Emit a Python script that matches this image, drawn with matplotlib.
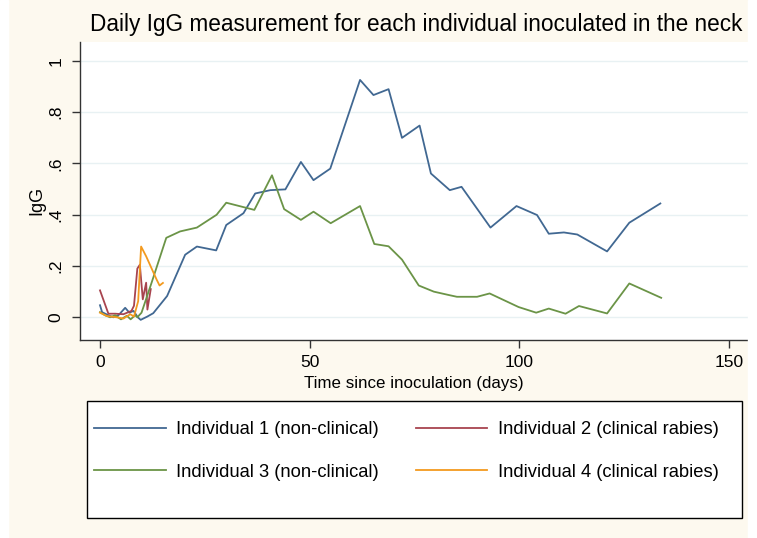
import matplotlib
matplotlib.use("Agg")
import matplotlib.pyplot as plt
from matplotlib.patches import Rectangle

plt.rcParams['font.family'] = ['Liberation Sans', 'DejaVu Sans']

# ---- data ----
ind1_days = [0, 0.5, 2, 3.2, 4.4, 6, 7, 8, 9, 9.7, 11.3, 12.7, 16, 20.3, 23.1, 27.7, 30.1, 34.2, 37,
             40.6, 44.2, 47.9, 50.9, 54.9, 62, 65.2, 68.8, 72, 76.2, 78.9, 83.4, 86.2, 93.1, 99.3,
             104.2, 107, 110.6, 113.8, 120.9, 126.2, 133.6]
ind1_igg = [0.047, 0.02, 0.008, 0.0, 0.008, 0.037, 0.018, 0.025, 0.0, -0.01, 0.003, 0.016, 0.083, 0.244,
            0.276, 0.261, 0.36, 0.406, 0.483, 0.496, 0.499, 0.606, 0.535, 0.58, 0.926, 0.867, 0.89,
            0.70, 0.748, 0.561, 0.496, 0.509, 0.35, 0.434, 0.399, 0.326, 0.331, 0.323, 0.257, 0.369, 0.444]

ind2_days = [0, 2, 3.6, 5.6, 7.5, 8.1, 8.9, 9.5, 10.2, 11, 11.3, 12.1]
ind2_igg = [0.105, 0.014, 0.014, 0.012, 0.025, 0.045, 0.19, 0.205, 0.07, 0.135, 0.03, 0.11]

ind3_days = [0, 1.2, 2.4, 3.6, 5, 6.4, 7.3, 8.4, 8.9, 9.9, 12.3, 15.8, 19.1, 23.1, 27.8, 30.1, 36.8,
             41, 43.9, 47.9, 50.9, 55, 62, 65.4, 68.8, 72, 76, 79.6, 83.4, 85.1, 89.9, 92.9, 99.8,
             104, 107, 111, 114.2, 120.9, 126.2, 133.8]
ind3_igg = [0.02, 0.008, 0.0, 0.008, -0.008, 0.006, -0.008, 0.008, 0.0, 0.018, 0.135, 0.31, 0.335,
            0.35, 0.40, 0.447, 0.419, 0.554, 0.422, 0.38, 0.412, 0.367, 0.434, 0.286, 0.277, 0.225,
            0.124, 0.10, 0.086, 0.08, 0.08, 0.093, 0.040, 0.018, 0.034, 0.014, 0.044, 0.015, 0.132, 0.076]

ind4_days = [0, 1.6, 4, 5.6, 7.2, 8.1, 9.1, 9.8, 11, 13.5, 14.2, 15]
ind4_igg = [0.018, 0.005, 0.0, -0.005, 0.012, 0.003, 0.063, 0.276, 0.238, 0.147, 0.124, 0.134]

labels = ["Individual 1 (non-clinical)", "Individual 2 (clinical rabies)",
          "Individual 3 (non-clinical)", "Individual 4 (clinical rabies)"]
x_ticks = [0, 50, 100, 150]
y_ticks = [0, 0.2, 0.4, 0.6, 0.8, 1.0]
y_ticklabels = ["0", ".2", ".4", ".6", ".8", "1"]

# ---- figure ----
W, H = 757, 538
bg = '#fdf9ef'
fig = plt.figure(figsize=(W / 100, H / 100), dpi=100, facecolor=bg)
fig.patches.append(Rectangle((0, 0), 8 / W, 1, transform=fig.transFigure, color='white', zorder=0))
fig.patches.append(Rectangle((748 / W, 0), 1 - 748 / W, 1, transform=fig.transFigure, color='white', zorder=0))

ax = fig.add_axes([80 / W, 1 - 340 / H, (748 - 80) / W, (340 - 42) / H])
ax.set_facecolor('white')

colors = ['#416892', '#a8444f', '#6b9447', '#f39a1f']
lw = 1.3
ax.plot(ind1_days, ind1_igg, color=colors[0], lw=lw, label=labels[0])
ax.plot(ind2_days, ind2_igg, color=colors[1], lw=lw, label=labels[1])
ax.plot(ind3_days, ind3_igg, color=colors[2], lw=lw, label=labels[2])
ax.plot(ind4_days, ind4_igg, color=colors[3], lw=lw, label=labels[3])

ax.set_xlim(-4.77, 154.5)
ax.set_ylim(-0.0886, 1.074)

ax.set_yticks(y_ticks)
ax.set_yticklabels(y_ticklabels, rotation=90, va='center')
ax.set_xticks(x_ticks)
ax.tick_params(axis='both', direction='out', length=6, width=1, color='#333333',
               labelsize=12.5, labelcolor='black', pad=5)
ax.tick_params(axis='y', pad=6)

ax.grid(axis='y', color='#e8f1f3', lw=1)
ax.set_axisbelow(True)
for s in ['top', 'right']:
    ax.spines[s].set_visible(False)
for s in ['left', 'bottom']:
    ax.spines[s].set_color('#333333')
    ax.spines[s].set_linewidth(1)

ax.set_xlabel("Time since inoculation (days)", fontsize=12.2, labelpad=4)
ax.set_ylabel("IgG", fontsize=13)
ax.yaxis.set_label_coords(-0.052, 0.47)

fig.text(416 / W, 1 - 25 / H, "Daily IgG measurement for each individual inoculated in the neck",
         ha='center', va='center', fontsize=16.3)

# legend box (drawn manually to keep empty space at the bottom like the reference)
fig.patches.append(Rectangle((87 / W, 1 - 518 / H), (742 - 87) / W, (518 - 401) / H,
                             transform=fig.transFigure, facecolor='white', edgecolor='black',
                             lw=1, zorder=1))
handles, lbls = ax.get_legend_handles_labels()
order = [0, 2, 1, 3]
leg = fig.legend([handles[i] for i in order], [lbls[i] for i in order], ncol=2,
                 loc='upper left', bbox_to_anchor=(94 / W, 1 - 421 / H),
                 fontsize=13.2, frameon=False, handlelength=3.9, handletextpad=0.6,
                 columnspacing=2.0, labelspacing=1.4, borderpad=0, borderaxespad=0)
leg.set_zorder(2)

fig.savefig("out.png", dpi=100, facecolor=bg)
